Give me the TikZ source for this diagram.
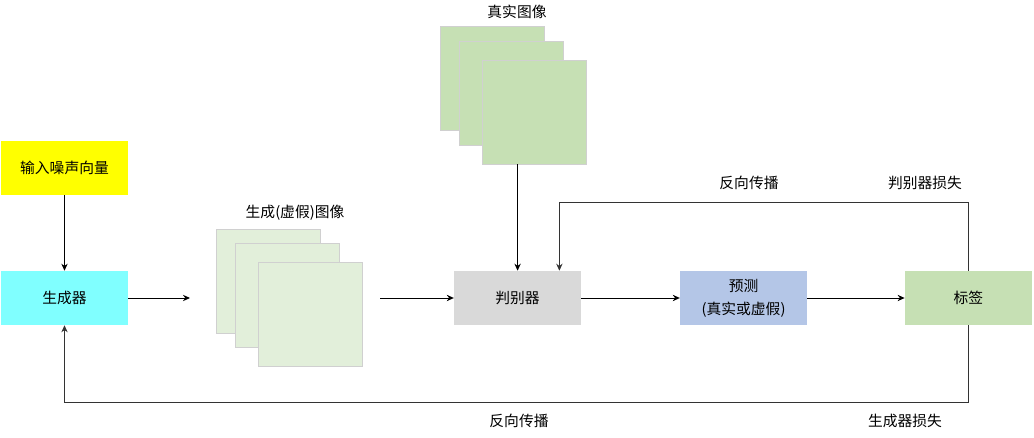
\documentclass[tikz,border=0pt]{standalone}
\usepackage{fontspec}
\setmainfont{Noto Sans CJK SC}
\usepackage{tikz}
\usetikzlibrary{
	arrows.meta,
	positioning,
	calc
}

\definecolor{amarelo}{HTML}{FFFF00}
\definecolor{ciano}{HTML}{80FFFF}
\definecolor{cinza}{HTML}{D9D9D9}
\definecolor{azul}{HTML}{B4C6E7}
\definecolor{verde}{HTML}{C6E0B4}
\definecolor{verdeclaro}{HTML}{E2EFDA}
\definecolor{borda}{HTML}{D0D0D0}

\begin{document}
\begin{tikzpicture}[
			font=\fontsize{10.5}{16.5}\selectfont,
			bloco/.style={minimum width=3.175cm, minimum height=1.35cm, align=center, inner sep=0pt},
			img/.style={draw=borda, line width=0.6pt, minimum width=2.6cm, minimum height=2.6cm, inner sep=0pt},
			>={Stealth[length=5pt, width=4.5pt]},
			msg/.style={->, line width=0.7pt},
			ret/.style={->, line width=0.7pt, draw=black!80}
		]
		\useasboundingbox (0,0) rectangle (25.85,-10.95);

		% blocos principais
		\node[bloco, fill=amarelo] (ruido) at (1.6125,-4.2) {输入噪声向量};
		\node[bloco, fill=ciano] (ger) at (1.6125,-7.45) {生成器};
		\node[bloco, fill=cinza] (disc) at (12.94,-7.45) {判别器};
		\node[bloco, fill=azul] (pred) at (18.59,-7.45) {预测\\(真实或虚假)};
		\node[bloco, fill=verde] (rot) at (24.21,-7.45) {标签};

		% imagens geradas e reais
		\foreach \i/\x/\y in {1/6.7/-7.04, 2/7.175/-7.39, 3/7.75/-7.86} {
				\node[img, fill=verdeclaro] (falsa\i) at (\x,\y) {};
			}
		\foreach \i/\x/\y in {1/12.3/-1.95, 2/12.775/-2.325, 3/13.35/-2.8} {
				\node[img, fill=verde] (real\i) at (\x,\y) {};
			}
		\node (tfalsa) at (7.375,-5.325) {生成(虚假)图像};
		\node (treal) at (12.925,-0.3) {真实图像};

		\coordinate (gsai) at (4.75,-7.45);
		\coordinate (fsai) at (9.5,-7.45);
		\coordinate (dtopo) at ($(disc.north east)+(-0.55,0)$);
		\coordinate (cima) at (0,-5.05);
		\coordinate (baixo) at (0,-10.05);

		\draw[msg] (ruido) -- (ger);
		\draw[msg] (ger) -- (gsai);
		\draw[msg] (fsai) -- (disc);
		\draw[msg] (disc.north |- real3.south) -- (disc.north);
		\draw[msg] (disc) -- (pred);
		\draw[msg] (pred) -- (rot);

		% retropropagacao
		\draw[ret] (rot.north) -- (rot.north |- cima) -- (dtopo |- cima) -- (dtopo);
		\draw[ret] (rot.south) -- (rot.south |- baixo) -- (ger.south |- baixo) -- (ger.south);

		\node (rp1) at (18.725,-4.575) {反向传播};
		\node (dl) at (23.125,-4.575) {判别器损失};
		\node (rp2) at (12.975,-10.525) {反向传播};
		\node (gl) at (22.625,-10.525) {生成器损失};
	\end{tikzpicture}
\end{document}
